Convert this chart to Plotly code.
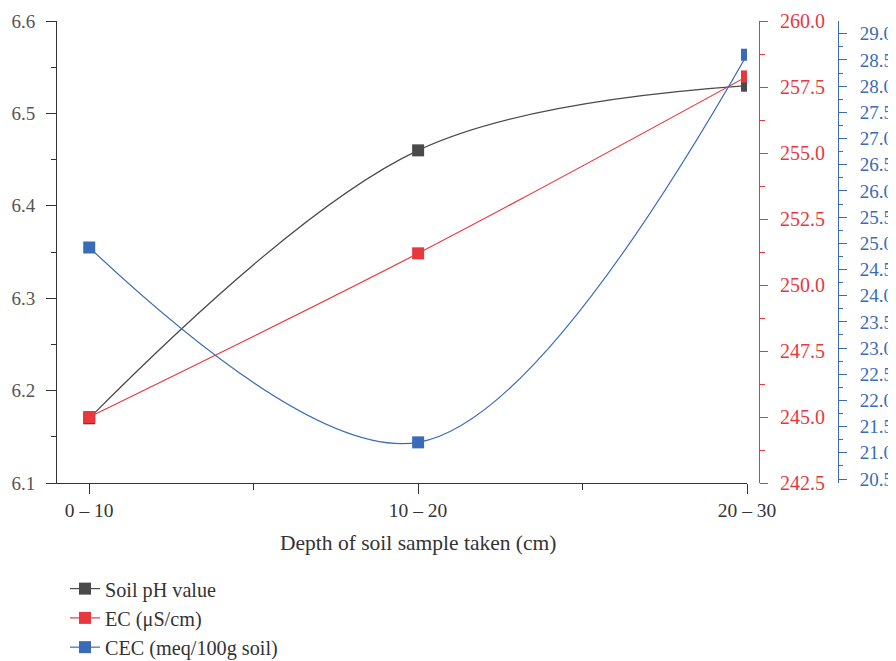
import plotly.graph_objects as go

categories = ["0 – 10", "10 – 20", "20 – 30"]
ph_values = [6.17, 6.46, 6.53]
ec_values = [245.0, 251.2, 257.9]
cec_values = [24.92, 21.2, 28.6]
series_names = ["Soil pH value", "EC (μS/cm)", "CEC (meq/100g soil)"]
x_title = "Depth of soil sample taken (cm)"

x_pos = list(range(len(categories)))

# page has an 8px body margin; figure pixel = page pixel - 8
OFF = 8
W, H = 896 - OFF, 661 - OFF
ml, mr, mt = 57 - OFF, 10, 21 - OFF
bottom = 483 - OFF
mb = H - bottom
pw = W - ml - mr
ph = H - mt - mb
dom_end = (747 - OFF - ml) / pw
red_pos = (759 - OFF - ml) / pw
blue_pos = (838 - OFF - ml) / pw

C_PH = "#4a4a4a"
C_EC = "#e8383e"
C_CEC = "#3a6bb8"
FONT = "Liberation Serif"

fig = go.Figure()
fig.add_trace(go.Scatter(x=x_pos, y=ph_values, name=series_names[0], mode="lines+markers",
                         line=dict(color=C_PH, width=1.2, shape="spline"),
                         marker=dict(symbol="square", size=12, color=C_PH), yaxis="y"))
fig.add_trace(go.Scatter(x=x_pos, y=ec_values, name=series_names[1], mode="lines+markers",
                         line=dict(color=C_EC, width=1.2, shape="spline"),
                         marker=dict(symbol="square", size=12, color=C_EC), yaxis="y2"))
fig.add_trace(go.Scatter(x=x_pos, y=cec_values, name=series_names[2], mode="lines+markers",
                         line=dict(color=C_CEC, width=1.2, shape="spline"),
                         marker=dict(symbol="square", size=12, color=C_CEC), yaxis="y3"))

fig.update_layout(
    width=W, height=H,
    margin=dict(l=ml, r=mr, t=mt, b=mb, autoexpand=False),
    paper_bgcolor="white", plot_bgcolor="white",
    font=dict(family=FONT, size=19, color="#333"),
    showlegend=True,
    legend=dict(x=(65 - OFF) / W, xref="container", y=1 - (569 - OFF) / H, yref="container",
                xanchor="left", yanchor="top",
                font=dict(family=FONT, size=20.2, color="#333"),
                bgcolor="rgba(0,0,0,0)", tracegroupgap=0),
    xaxis=dict(domain=[0, dom_end], range=[-0.098, 2], tickvals=x_pos, ticktext=categories,
               showgrid=False, zeroline=False, showline=True, linecolor="#333", linewidth=1,
               ticks="outside", ticklen=10, tickcolor="#333",
               minor=dict(tickvals=[0.5, 1.5], ticks="outside", ticklen=6, tickcolor="#333"),
               tickfont=dict(family=FONT, size=19.5, color="#333"), anchor="y", automargin=False),
    yaxis=dict(range=[6.1, 6.6], dtick=0.1, tickformat=".1f",
               showgrid=False, zeroline=False, showline=True, linecolor="#333", linewidth=1,
               ticks="outside", ticklen=10, tickcolor="#333", ticklabelstandoff=7,
               minor=dict(dtick=0.05, ticks="outside", ticklen=5, tickcolor="#333"),
               tickfont=dict(family=FONT, size=19, color="#555"), automargin=False),
    yaxis2=dict(range=[242.5, 260], dtick=2.5, tick0=242.5, tickformat=".1f",
                overlaying="y", side="right", anchor="free", position=red_pos,
                showgrid=False, zeroline=False, showline=True, linecolor=C_EC, linewidth=1,
                ticks="outside", ticklen=8, tickcolor=C_EC, ticklabelstandoff=8,
                minor=dict(dtick=1.25, ticks="outside", ticklen=5, tickcolor=C_EC),
                tickfont=dict(family=FONT, size=20, color=C_EC), automargin=False),
    yaxis3=dict(range=[20.424, 29.244], dtick=0.5, tick0=20.5, tickformat=".1f",
                overlaying="y", side="right", anchor="free", position=blue_pos,
                showgrid=False, zeroline=False, showline=True, linecolor=C_CEC, linewidth=1,
                ticks="outside", ticklen=8, tickcolor=C_CEC, ticklabelstandoff=9,
                minor=dict(dtick=0.25, ticks="outside", ticklen=4, tickcolor=C_CEC),
                tickfont=dict(family=FONT, size=19, color=C_CEC), automargin=False),
    annotations=[dict(text=x_title, x=1, xref="x", y=(483 - 543) / ph, yref="paper",
                      xanchor="center", yanchor="middle", showarrow=False,
                      font=dict(family=FONT, size=21.5, color="#333"))],
)

fig.write_html("out.html")
